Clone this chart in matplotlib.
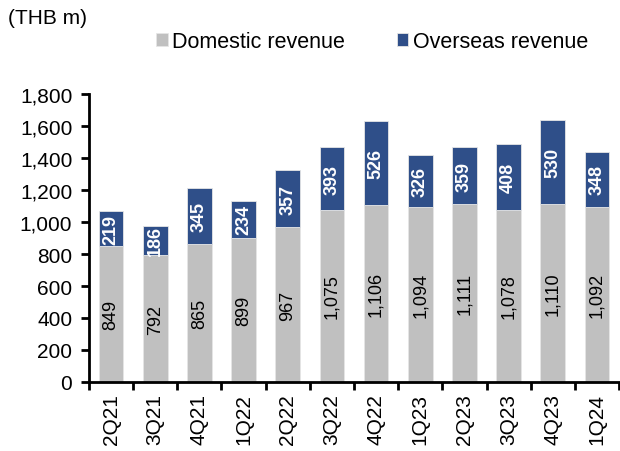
import matplotlib.pyplot as plt
import numpy as np

plt.rcParams['font.family'] = ['Liberation Sans', 'DejaVu Sans']

# data
quarters = ["2Q21", "3Q21", "4Q21", "1Q22", "2Q22", "3Q22", "4Q22",
            "1Q23", "2Q23", "3Q23", "4Q23", "1Q24"]
domestic = [849, 792, 865, 899, 967, 1075, 1106, 1094, 1111, 1078, 1110, 1092]
overseas = [219, 186, 345, 234, 357, 393, 526, 326, 359, 408, 530, 348]

grey = "#C0C0C0"
blue = "#2F4F89"

fig = plt.figure(figsize=(6.2, 4.52), dpi=100)
ax = fig.add_axes([0.1435, 0.1527, 0.855, 0.637])

x = np.arange(len(quarters))
w = 0.56
b1 = ax.bar(x, domestic, w, color=grey, edgecolor="#E6E6E6", linewidth=0.6,
            label="Domestic revenue")
b2 = ax.bar(x, overseas, w, bottom=domestic, color=blue, edgecolor="#E6E6E6",
            linewidth=0.6, label="Overseas revenue")

for i in range(len(quarters)):
    ax.text(x[i], domestic[i] / 2, f"{domestic[i]:,}", rotation=90,
            ha="center", va="center", fontsize=13, color="black")
    ax.text(x[i], domestic[i] + overseas[i] / 2, f"{overseas[i]:,}", rotation=90,
            ha="center", va="center", fontsize=13, color="white", fontweight="bold")

ax.set_xlim(-0.5, len(quarters) - 0.5)
ax.set_ylim(0, 1800)
ax.set_yticks(range(0, 1801, 200))
ax.set_yticklabels([f"{v:,}" for v in range(0, 1801, 200)], fontsize=15)
ax.set_xticks(x)
ax.set_xticklabels(quarters, rotation=90, fontsize=15)
ax.set_xticks(np.arange(-0.5, len(quarters)), minor=True)
ax.tick_params(axis="x", which="major", length=0, pad=8)
ax.tick_params(axis="x", which="minor", length=6, width=2, direction="out")
ax.tick_params(axis="y", length=6, width=2, direction="out", pad=6)

for s in ["top", "right"]:
    ax.spines[s].set_visible(False)
for s in ["left", "bottom"]:
    ax.spines[s].set_linewidth(2)

fig.text(0.013, 0.96, "(THB m)", fontsize=15, ha="left", va="center")
fig.legend(handles=[b1, b2], loc="center", bbox_to_anchor=(0.6, 0.905), ncol=2,
           frameon=False, fontsize=15.5, handlelength=0.55, handleheight=0.55,
           handletextpad=0.2, columnspacing=2.4)

fig.savefig("out.png", dpi=100)
